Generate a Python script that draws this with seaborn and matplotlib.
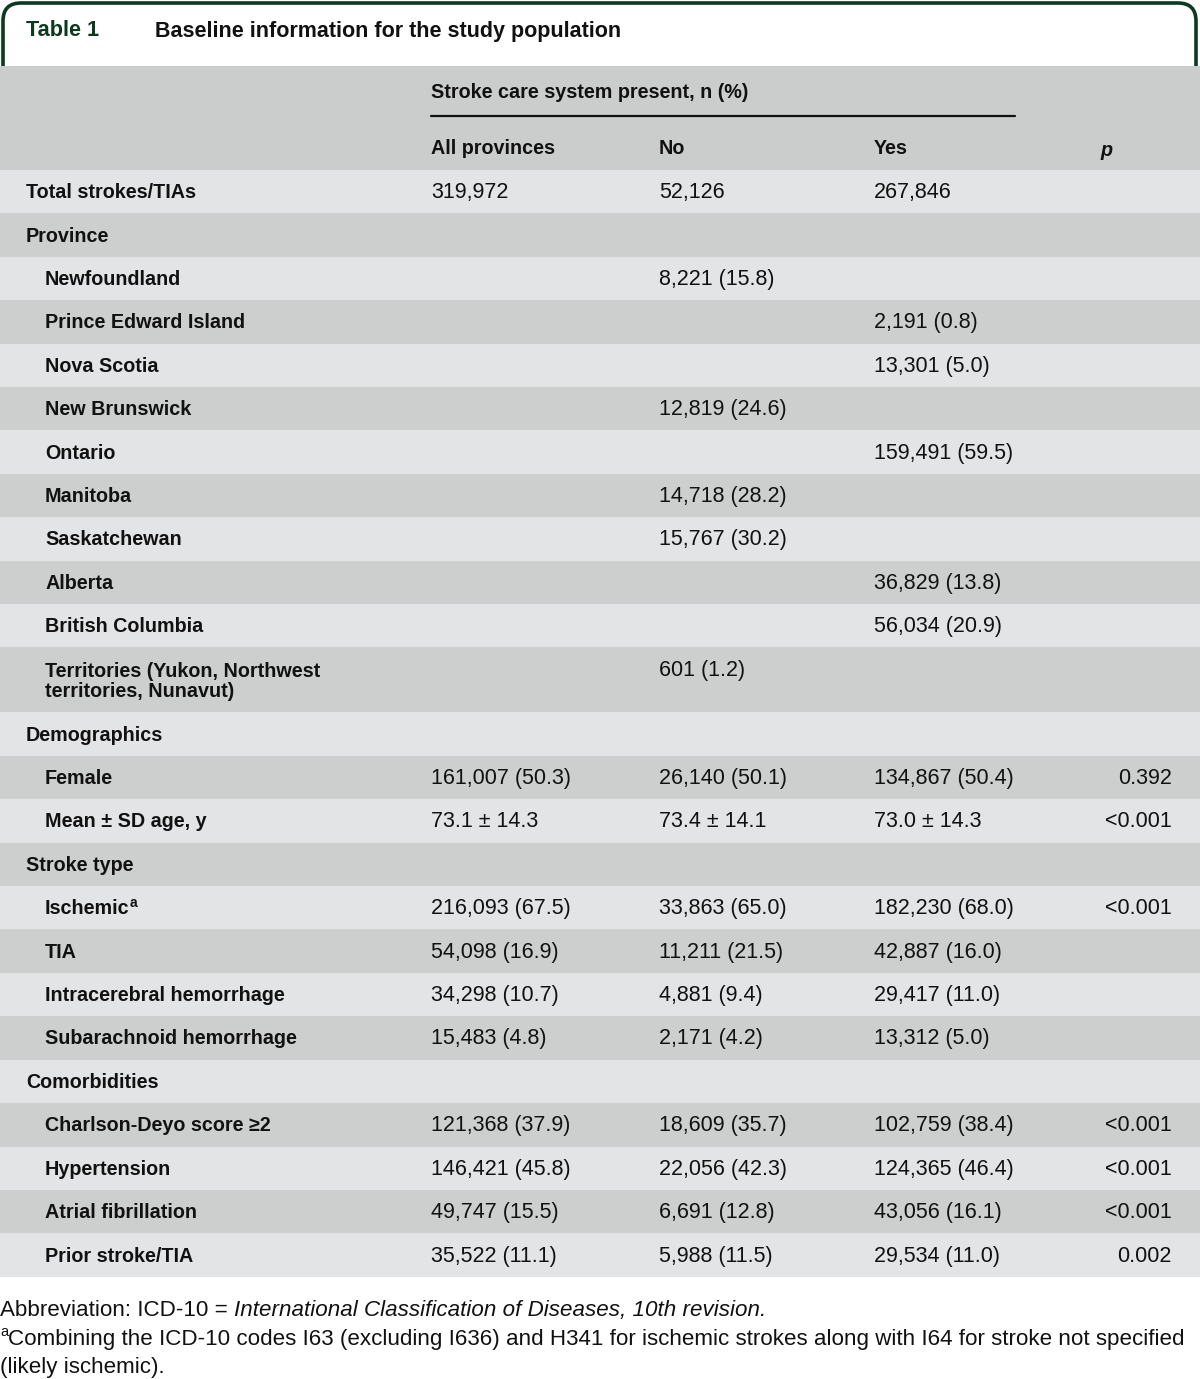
"""
Table 1 - baseline information for the study population, drawn as a figure.
"""
import matplotlib.pyplot as plt
import seaborn as sns
from matplotlib.patches import FancyBboxPatch

sns.set_theme(style="white")
plt.rcParams["font.family"] = ["Liberation Sans", "DejaVu Sans"]

# Table content
labels = [
    "Total strokes/TIAs", "Province", "Newfoundland", "Prince Edward Island",
    "Nova Scotia", "New Brunswick", "Ontario", "Manitoba", "Saskatchewan",
    "Alberta", "British Columbia", "Territories (Yukon, Northwest\nterritories, Nunavut)",
    "Demographics", "Female", "Mean \u00b1 SD age, y", "Stroke type", "Ischemic",
    "TIA", "Intracerebral hemorrhage", "Subarachnoid hemorrhage", "Comorbidities",
    "Charlson-Deyo score \u22652", "Hypertension", "Atrial fibrillation", "Prior stroke/TIA",
]
kinds = [
    "section", "section", "item", "item", "item", "item", "item", "item", "item",
    "item", "item", "item", "section", "item", "item", "section", "item", "item",
    "item", "item", "section", "item", "item", "item", "item",
]
all_prov = [
    "319,972", "", "", "", "", "", "", "", "", "", "", "", "",
    "161,007 (50.3)", "73.1 \u00b1 14.3", "", "216,093 (67.5)", "54,098 (16.9)",
    "34,298 (10.7)", "15,483 (4.8)", "", "121,368 (37.9)", "146,421 (45.8)",
    "49,747 (15.5)", "35,522 (11.1)",
]
no_vals = [
    "52,126", "", "8,221 (15.8)", "", "", "12,819 (24.6)", "", "14,718 (28.2)",
    "15,767 (30.2)", "", "", "601 (1.2)", "", "26,140 (50.1)", "73.4 \u00b1 14.1", "",
    "33,863 (65.0)", "11,211 (21.5)", "4,881 (9.4)", "2,171 (4.2)", "",
    "18,609 (35.7)", "22,056 (42.3)", "6,691 (12.8)", "5,988 (11.5)",
]
yes_vals = [
    "267,846", "", "", "2,191 (0.8)", "13,301 (5.0)", "", "159,491 (59.5)", "", "",
    "36,829 (13.8)", "56,034 (20.9)", "", "", "134,867 (50.4)", "73.0 \u00b1 14.3", "",
    "182,230 (68.0)", "42,887 (16.0)", "29,417 (11.0)", "13,312 (5.0)", "",
    "102,759 (38.4)", "124,365 (46.4)", "43,056 (16.1)", "29,534 (11.0)",
]
p_vals = [
    "", "", "", "", "", "", "", "", "", "", "", "", "",
    "0.392", "<0.001", "", "<0.001", "", "", "", "",
    "<0.001", "<0.001", "<0.001", "0.002",
]
superscripts = {"Ischemic": "a"}
footnote_abbrev = ("Abbreviation: ICD-10 = ",
                   "International Classification of Diseases, 10th revision.")
footnote_a = ("Combining the ICD-10 codes I63 (excluding I636) and H341 for ischemic strokes "
              "along with I64 for stroke not specified")
footnote_a2 = "(likely ischemic)."

# layout (pixels)
W, H = 1200, 1379
ROW_H = 43.4
HEADER_TOP, HEADER_BOTTOM = 66, 170
LIGHT, DARK = "#e3e4e5", "#cdcfce"
GREEN = "#0b3a1d"
INK = "#111111"
COL_X = [431, 659, 874]
P_X = 1172
FS_LABEL, FS_BODY, FS_NOTE = 14.2, 15.5, 16.1

fig = plt.figure(figsize=(W / 100, H / 100), dpi=100)
ax = fig.add_axes([0, 0, 1, 1])
ax.set_xlim(0, W)
ax.set_ylim(H, 0)
ax.axis("off")

# title box
box = FancyBboxPatch((3, 3), W - 7, 120, boxstyle="round,pad=0,rounding_size=18",
                     facecolor="white", edgecolor=GREEN, linewidth=2.6, zorder=1)
ax.add_patch(box)
ax.text(26, 31, "Table 1", fontsize=15.6, fontweight="bold", color=GREEN, va="center")
ax.text(155, 31, "Baseline information for the study population", fontsize=15.5,
        fontweight="bold", color=INK, va="center")

# header band
ax.barh(HEADER_TOP, W, height=HEADER_BOTTOM - HEADER_TOP, left=0, align="edge",
        color="#cbcdcc", linewidth=0, zorder=2)
ax.text(COL_X[0], 92, "Stroke care system present, n (%)", fontsize=FS_LABEL,
        fontweight="bold", va="center", color=INK, zorder=3)
ax.plot([COL_X[0], 1015], [116, 116], color=INK, lw=1.6, zorder=3)
for x, h in zip(COL_X, ["All provinces", "No", "Yes"]):
    ax.text(x, 148, h, fontsize=FS_LABEL, fontweight="bold", va="center",
            color=INK, zorder=3)
ax.text(1107, 150, "p", fontsize=FS_LABEL, fontweight="bold", style="italic",
        va="center", ha="center", color=INK, zorder=3)

# body rows
heights = [ROW_H * (1.5 if "\n" in lab else 1) for lab in labels]
y = HEADER_BOTTOM
for i, lab in enumerate(labels):
    h = heights[i]
    ax.barh(y, W, height=h, left=0, align="edge", color=LIGHT if i % 2 == 0 else DARK,
            linewidth=0, zorder=2)
    yc = y + h / 2 + (1.5 if "\n" in lab else 1)
    lx = 26 if kinds[i] == "section" else 45
    t = ax.text(lx, yc, lab, fontsize=FS_LABEL, fontweight="bold", va="center",
                color=INK, linespacing=1.05, zorder=3)
    if lab in superscripts:
        ax.annotate(superscripts[lab], xy=(1, 1), xycoords=t, xytext=(0.3, -5.5),
                    textcoords="offset points", fontsize=10, fontweight="bold",
                    va="baseline", color=INK, zorder=3)
    vy = y + ROW_H / 2 + 1
    for x, v in zip(COL_X, [all_prov[i], no_vals[i], yes_vals[i]]):
        if v:
            ax.text(x, vy, v, fontsize=FS_BODY, va="center", color=INK, zorder=3)
    if p_vals[i]:
        ax.text(P_X, vy, p_vals[i], fontsize=FS_BODY, va="center", ha="right",
                color=INK, zorder=3)
    y += h

# footnotes
a1 = ax.text(0, 1316, footnote_abbrev[0], fontsize=FS_NOTE, va="baseline", color=INK)
ax.annotate(footnote_abbrev[1], xy=(1, 0), xycoords=a1, va="bottom",
            fontsize=FS_NOTE, style="italic", color=INK)
ax.text(0, 1336, "a", fontsize=10.5, va="baseline", color=INK)
ax.text(8, 1345, footnote_a, fontsize=FS_NOTE, va="baseline", color=INK)
ax.text(0, 1373, footnote_a2, fontsize=FS_NOTE, va="baseline", color=INK)

fig.savefig("out.png", dpi=100)
plt.close(fig)
